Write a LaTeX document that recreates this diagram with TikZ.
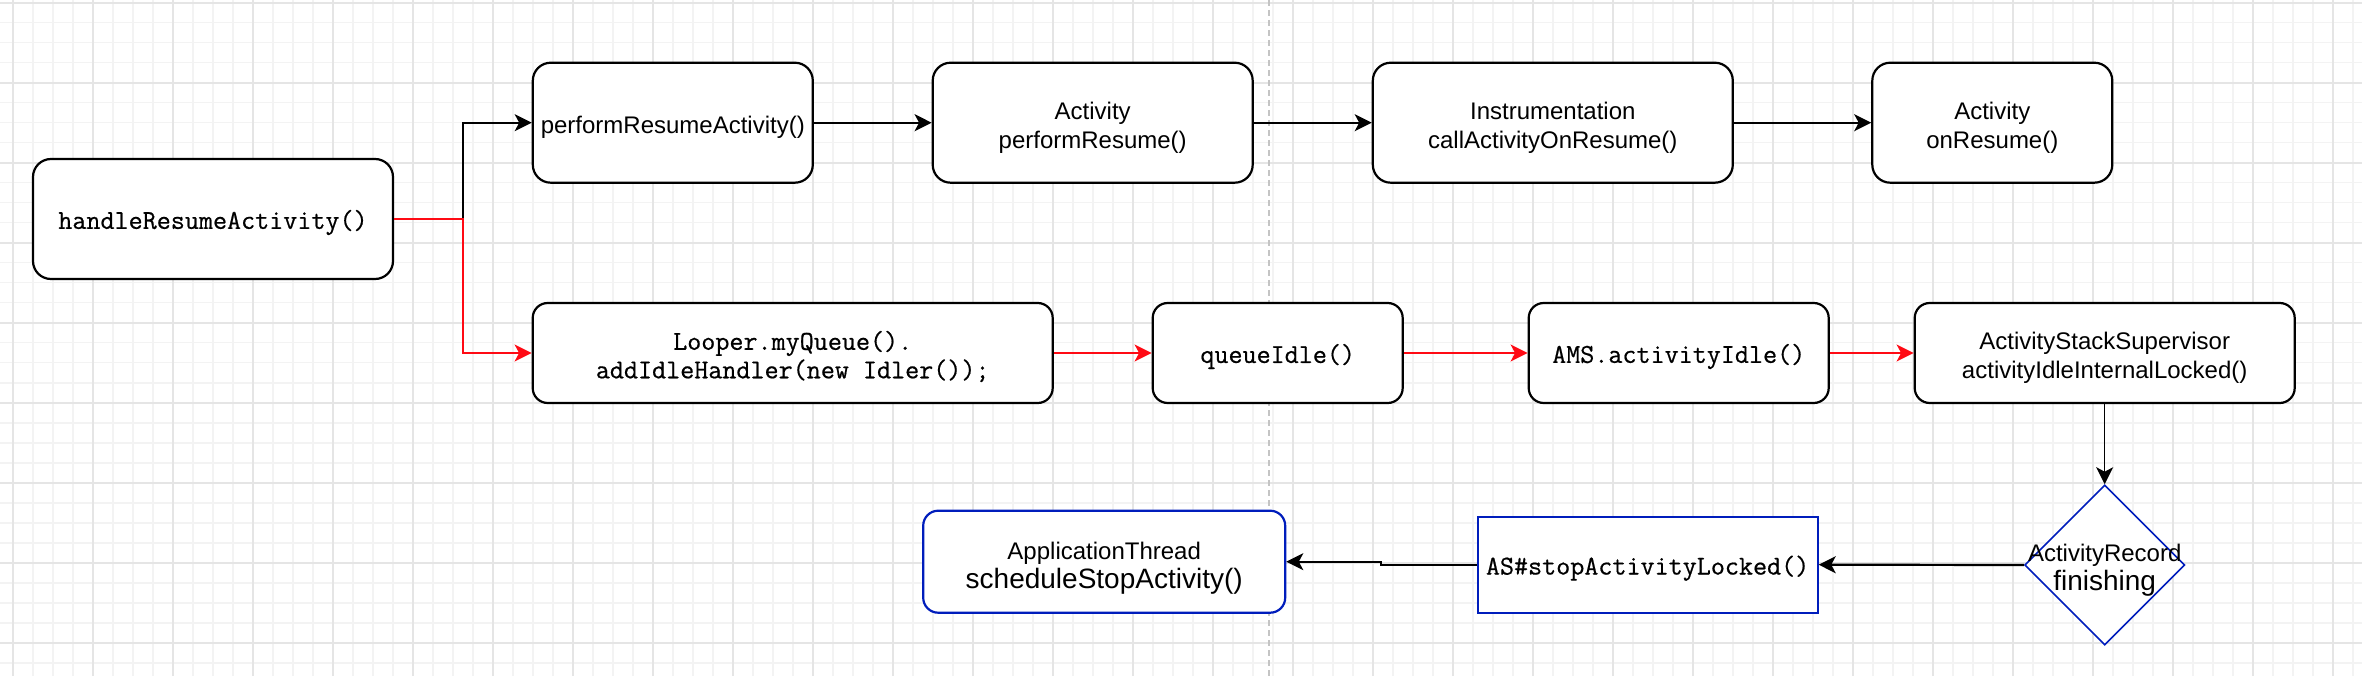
\documentclass[tikz,border=0pt]{standalone}
\usepackage{fontspec}
\setsansfont{Liberation Sans}
\newfontfamily\codefont{Latin Modern Mono}[FakeBold=0.6]
\usetikzlibrary{arrows.meta,shapes.geometric}
\definecolor{edgered}{RGB}{255,10,20}
\definecolor{boxblue}{RGB}{0,29,188}
\definecolor{gridminor}{RGB}{243,243,243}
\definecolor{gridmajor}{RGB}{229,229,229}
\definecolor{dashgray}{RGB}{196,196,196}
\tikzset{
  sanstext/.style={font=\fontsize{24pt}{29pt}\selectfont\sffamily},
  codetext/.style={font=\fontsize{27.3pt}{28.5pt}\selectfont\codefont},
  stxt/.style={label={[sanstext, align=center, inner sep=0pt, yshift=-5pt]center:{#1}}},
  ctxt/.style={label={[codetext, align=center, inner sep=0pt, yshift=-3.5pt]center:{#1}}},
  rbox/.style={draw=black, line width=2.2pt, fill=white, rounded corners=18pt,
    inner sep=0pt, align=center},
  rboxs/.style={rbox, rounded corners=15pt},
  bluebox/.style={draw=boxblue, line width=2.2pt, fill=white, inner sep=0pt, align=center},
  tip/.style={-{Stealth[length=17pt,width=17pt,inset=4.5pt]}},
  blkedge/.style={tip, draw=black, line width=2.2pt},
  rededge/.style={tip, draw=edgered, line width=2pt},
  thinedge/.style={tip, draw=black, line width=1.5pt},
}
\begin{document}
\begin{tikzpicture}[x=1pt,y=-1pt]
\useasboundingbox (0,0) rectangle (2362,676);
\fill[white] (0,0) rectangle (2362,676);
% grid
\foreach \i in {0,...,117} \draw[gridminor, line width=1.6pt] (12.7+20*\i,0) -- (12.7+20*\i,676);
\foreach \j in {0,...,33} \draw[gridminor, line width=1.6pt] (0,2.7+20*\j) -- (2362,2.7+20*\j);
\foreach \i in {0,...,29} \draw[gridmajor, line width=2pt] (12.7+80*\i,0) -- (12.7+80*\i,676);
\foreach \j in {0,...,8} \draw[gridmajor, line width=2pt] (0,2.7+80*\j) -- (2362,2.7+80*\j);
% dashed separator
\draw[dashgray, line width=2pt, dash pattern=on 6pt off 4pt] (1269,0) -- (1269,676);

% top row
\node[rbox, minimum width=360pt, minimum height=120pt, ctxt={handleResumeActivity()}] (handle) at (213,219) {};
\node[rbox, minimum width=280pt, minimum height=120pt, stxt={performResumeActivity()}] (perform) at (672.8,122.7) {};
\node[rbox, minimum width=320pt, minimum height=120pt, stxt={Activity\\performResume()}] (actperf) at (1092.7,122.7) {};
\node[rbox, minimum width=360pt, minimum height=120pt, stxt={Instrumentation\\callActivityOnResume()}] (instr) at (1552.8,122.7) {};
\node[rbox, minimum width=240pt, minimum height=120pt, stxt={Activity\\onResume()}] (onres) at (1992.3,122.7) {};

% middle row
\node[rboxs, minimum width=520pt, minimum height=100pt, ctxt={Looper.myQueue().\\addIdleHandler(new Idler());}] (looper) at (792.7,353) {};
\node[rboxs, minimum width=250pt, minimum height=100pt, ctxt={queueIdle()}] (qidle) at (1277.7,353) {};
\node[rboxs, minimum width=300pt, minimum height=100pt, ctxt={AMS.activityIdle()}] (ams) at (1678.7,353) {};
\node[rboxs, minimum width=380pt, minimum height=100pt, stxt={ActivityStackSupervisor\\activityIdleInternalLocked()}] (ass) at (2104.7,353) {};

% bottom row
\node[diamond, draw=boxblue, line width=1.6pt, fill=white, minimum width=160pt, minimum height=160pt, inner sep=0pt,
  label={[sanstext, align=center, inner sep=0pt, yshift=-5pt]center:ActivityRecord\\{\fontsize{28pt}{31pt}\selectfont finishing}}] (finish) at (2104.7,565) {};
\node[bluebox, minimum width=340pt, minimum height=96pt, ctxt={AS\#stopActivityLocked()}] (asstop) at (1647.6,564.7) {};
\node[bluebox, rounded corners=15pt, minimum width=362pt, minimum height=102pt,
  label={[sanstext, align=center, inner sep=0pt, yshift=-7pt]center:ApplicationThread\\{\fontsize{28pt}{31pt}\selectfont scheduleStopActivity()}}] (appth) at (1104.2,561.7) {};

% connectors
\coordinate (split) at (462.7,219);
\draw[blkedge] (handle.east) -- (split) |- (perform.west);
\draw[rededge] (handle.east) -- (split) |- (looper.west);
\draw[blkedge] (perform) -- (actperf);
\draw[blkedge] (actperf) -- (instr);
\draw[blkedge] (instr) -- (onres);
\draw[rededge] (looper) -- (qidle);
\draw[rededge] (qidle) -- (ams);
\draw[rededge] (ams) -- (ass);
\draw[thinedge] (ass) -- (finish.north);
\draw[blkedge] (finish.west) -- (asstop.east);
\coordinate (jog) at (1381,564.7);
\draw[blkedge] (asstop.west) -- (jog) |- (appth.east);
\end{tikzpicture}
\end{document}
